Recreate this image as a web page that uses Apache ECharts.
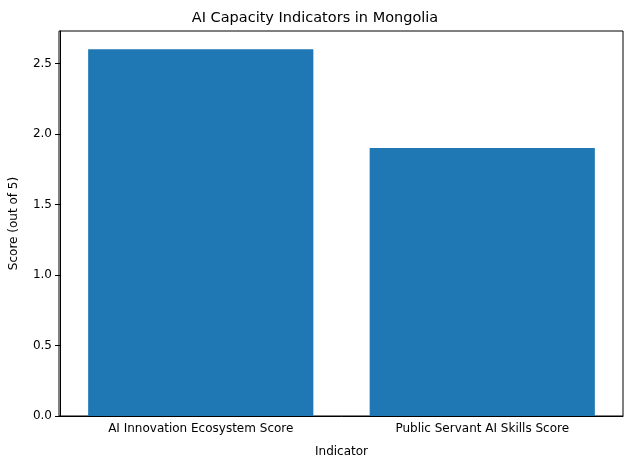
<!DOCTYPE html>
<html><head><meta charset="utf-8">
<script src="https://cdn.jsdelivr.net/npm/echarts@6/dist/echarts.min.js"></script>
<style>html,body{margin:0;padding:0;background:#fff}#c{width:630px;height:470px}</style>
</head><body><div id="c"></div>
<script>
var categories = ['AI Innovation Ecosystem Score', 'Public Servant AI Skills Score'];
var scores = [2.6, 1.9];

var chart = echarts.init(document.getElementById('c'));
var font = 'DejaVu Sans';
chart.setOption({
    animation: false,
    title: {
        text: 'AI Capacity Indicators in Mongolia',
        left: 'center', top: 6,
        textStyle: {fontFamily: font, fontSize: 14.5, fontWeight: 'normal', color: '#000'}
    },
    grid: {left: 59, right: 7, top: 31, bottom: 54},
    xAxis: {
        type: 'category',
        data: categories,
        name: 'Indicator', nameLocation: 'middle', nameGap: 30,
        nameTextStyle: {fontFamily: font, fontSize: 12, color: '#000'},
        axisLine: {lineStyle: {color: '#000'}},
        axisTick: {alignWithLabel: true, lineStyle: {color: '#000'}},
        axisLabel: {fontFamily: font, fontSize: 12, color: '#000', margin: 7}
    },
    yAxis: {
        type: 'value', min: 0, max: 2.73, interval: 0.5,
        name: 'Score (out of 5)', nameLocation: 'middle', nameGap: 40,
        nameTextStyle: {fontFamily: font, fontSize: 12, color: '#000'},
        axisLine: {show: true, lineStyle: {color: '#000'}},
        axisTick: {show: true, lineStyle: {color: '#000'}},
        splitLine: {show: false},
        axisLabel: {fontFamily: font, fontSize: 12, color: '#000', showMaxLabel: false,
            formatter: function (v) { return v.toFixed(1); }}
    },
    series: [{
        type: 'bar', data: scores, barWidth: '80%',
        itemStyle: {color: '#1f77b4'}
    }],
    graphic: [{
        type: 'rect', shape: {x: 59, y: 31, width: 564, height: 385},
        style: {fill: 'none', stroke: '#000', lineWidth: 1}, silent: true
    }]
});
</script></body></html>
